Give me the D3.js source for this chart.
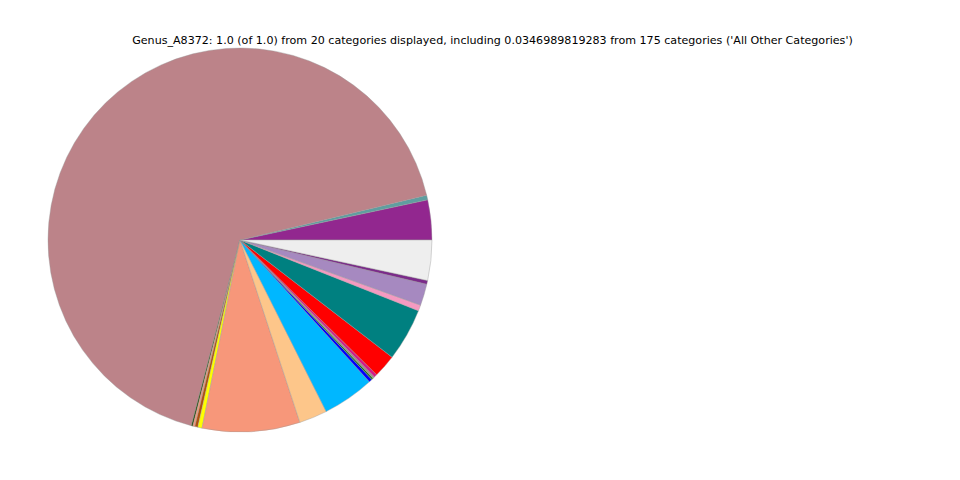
<!DOCTYPE html>
<html>
<head>
<meta charset="utf-8">
<script src="https://cdn.jsdelivr.net/npm/d3@7"></script>
<style>
  html, body { margin: 0; padding: 0; background: #ffffff; }
  svg { display: block; }
</style>
</head>
<body>
<svg id="chart" width="960" height="480"></svg>
<script>
const titleText = "Genus_A8372: 1.0 (of 1.0) from 20 categories displayed, including 0.0346989819283 from 175 categories ('All Other Categories')";

const categories = [
  "Category 1", "Category 2", "Category 3", "Category 4", "Category 5",
  "Category 6", "Category 7", "Category 8", "Category 9", "Category 10",
  "Category 11", "Category 12", "Category 13", "Category 14", "Category 15",
  "Category 16", "Category 17", "Category 18", "Category 19", "All Other Categories"
];

const values = [
  0.0336, 0.0039, 0.6717, 0.0014, 0.0017,
  0.0025, 0.0036, 0.0822, 0.0236, 0.0436,
  0.0028, 0.0014, 0.0017, 0.0025, 0.0194,
  0.0444, 0.0050, 0.0181, 0.0031, 0.0339
];

const colors = [
  "#92278f", "#5f9ea0", "#bc8389", "#2f4a10", "#f4987a",
  "#b0500f", "#ffff00", "#f7977a", "#fdc68a", "#00b7ff",
  "#0000ff", "#1a7a1a", "#a0908a", "#d6178a", "#ff0000",
  "#008080", "#f49ac1", "#a689c0", "#7b2a8a", "#eeeeee"
];

const svg = d3.select("#chart");
const cx = 240, cy = 240, r = 192;

svg.append("text")
  .attr("x", 492.5)
  .attr("y", 43.5)
  .attr("text-anchor", "middle")
  .attr("font-family", "DejaVu Sans, sans-serif")
  .attr("font-size", 11.1)
  .attr("fill", "#000")
  .text(titleText);

const data = categories.map((c, i) => ({ name: c, value: values[i], color: colors[i] }));

// matplotlib style: start at 3 o'clock, go counter-clockwise
const pie = d3.pie()
  .sort(null)
  .value(d => d.value)
  .startAngle(Math.PI / 2)
  .endAngle(Math.PI / 2 - 2 * Math.PI);

const arc = d3.arc().innerRadius(0).outerRadius(r);

const g = svg.append("g").attr("transform", `translate(${cx},${cy})`);

g.selectAll("path")
  .data(pie(data))
  .join("path")
  .attr("d", arc)
  .attr("fill", d => d.data.color)
  .attr("stroke", "#999")
  .attr("stroke-width", 0.4)
  .attr("stroke-linejoin", "round");
</script>
</body>
</html>
